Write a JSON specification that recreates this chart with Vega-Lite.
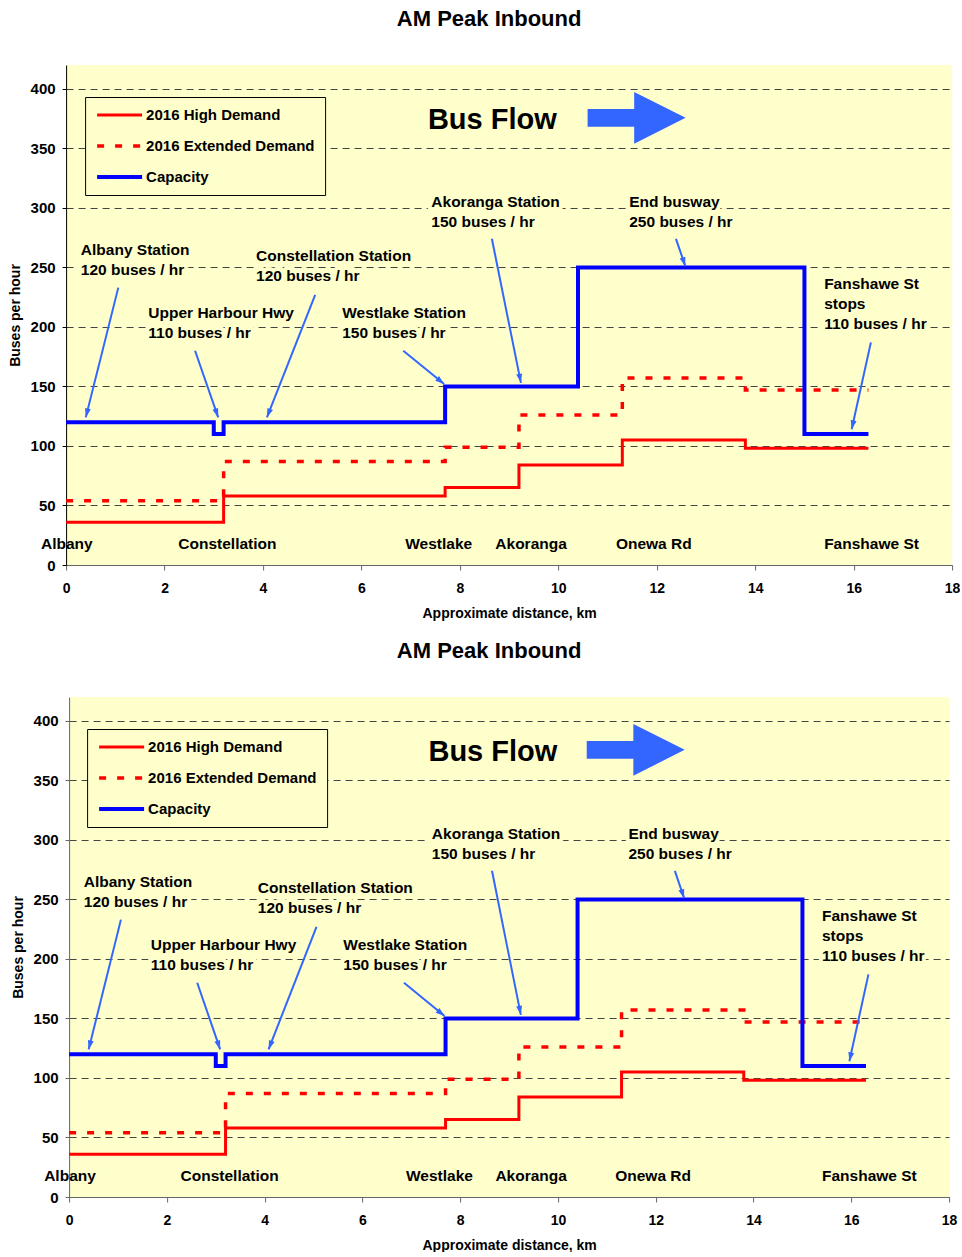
{
  "$schema": "https://vega.github.io/schema/vega-lite/v6.json",
  "padding": {"left": 8, "top": 8, "right": 0, "bottom": 0},
  "spacing": 20,
  "center": true,
  "resolve": {
    "scale": {"color": "independent", "strokeDash": "independent", "strokeWidth": "independent"},
    "legend": {"color": "independent", "strokeDash": "independent", "strokeWidth": "independent"}
  },
  "config": {
    "font": "Liberation Sans",
    "view": {"fill": "#FFFFCC", "stroke": null},
    "title": {"font": "Liberation Sans", "fontSize": 22, "fontWeight": "bold", "color": "black", "anchor": "middle", "dx": -20, "offset": 34},
    "axis": {"labelFont": "Liberation Sans", "labelFontWeight": "bold", "labelColor": "black", "titleFont": "Liberation Sans", "titleFontWeight": "bold", "titleColor": "black", "titleFontSize": 14}
  },
  "datasets": {
    "lines": [
      {"series": "2016 High Demand", "km": 0, "buses": 36},
      {"series": "2016 High Demand", "km": 3.2, "buses": 58},
      {"series": "2016 High Demand", "km": 7.7, "buses": 65},
      {"series": "2016 High Demand", "km": 9.2, "buses": 84},
      {"series": "2016 High Demand", "km": 11.3, "buses": 105},
      {"series": "2016 High Demand", "km": 13.8, "buses": 98},
      {"series": "2016 High Demand", "km": 16.3, "buses": 98},
      {"series": "2016 Extended Demand", "km": 0, "buses": 54},
      {"series": "2016 Extended Demand", "km": 3.2, "buses": 87},
      {"series": "2016 Extended Demand", "km": 7.7, "buses": 99},
      {"series": "2016 Extended Demand", "km": 9.2, "buses": 126},
      {"series": "2016 Extended Demand", "km": 11.3, "buses": 157},
      {"series": "2016 Extended Demand", "km": 13.8, "buses": 147},
      {"series": "2016 Extended Demand", "km": 16.3, "buses": 147},
      {"series": "Capacity", "km": 0, "buses": 120},
      {"series": "Capacity", "km": 3.0, "buses": 110},
      {"series": "Capacity", "km": 3.2, "buses": 120},
      {"series": "Capacity", "km": 7.7, "buses": 150},
      {"series": "Capacity", "km": 10.4, "buses": 250},
      {"series": "Capacity", "km": 15.0, "buses": 110},
      {"series": "Capacity", "km": 16.3, "buses": 110}
    ],
    "notes": [
      {"km": 0.30, "buses": 260, "label": "Albany Station\n120 buses / hr"},
      {"km": 1.67, "buses": 207.7, "label": "Upper Harbour Hwy\n110 buses / hr"},
      {"km": 3.86, "buses": 255.7, "label": "Constellation Station\n120 buses / hr"},
      {"km": 5.61, "buses": 207.7, "label": "Westlake Station\n150 buses / hr"},
      {"km": 7.42, "buses": 301, "label": "Akoranga Station\n150 buses / hr"},
      {"km": 11.44, "buses": 301, "label": "End busway\n250 buses / hr"},
      {"km": 15.40, "buses": 232, "label": "Fanshawe St\nstops\n110 buses / hr"}
    ],
    "places": [
      {"km": -0.51, "buses": 13.4, "label": "Albany"},
      {"km": 2.28, "buses": 13.4, "label": "Constellation"},
      {"km": 6.89, "buses": 13.4, "label": "Westlake"},
      {"km": 8.72, "buses": 13.4, "label": "Akoranga"},
      {"km": 11.17, "buses": 13.4, "label": "Onewa Rd"},
      {"km": 15.40, "buses": 13.4, "label": "Fanshawe St"}
    ],
    "arrows": [
      {"km": 1.06, "buses": 233, "km2": 0.40, "buses2": 124, "heading": 193.9},
      {"km": 2.62, "buses": 180, "km2": 3.09, "buses2": 124, "heading": 161.1},
      {"km": 5.06, "buses": 227, "km2": 4.08, "buses2": 124, "heading": 201.3},
      {"km": 6.85, "buses": 180, "km2": 7.68, "buses2": 152, "heading": 128.8},
      {"km": 8.65, "buses": 274, "km2": 9.24, "buses2": 153, "heading": 168.7},
      {"km": 12.39, "buses": 274, "km2": 12.58, "buses2": 251, "heading": 161.6},
      {"km": 16.35, "buses": 187, "km2": 15.96, "buses2": 114, "heading": 192.3}
    ],
    "flowtext": [{"km": 7.35, "buses": 366, "label": "Bus Flow"}],
    "flowarrow": [{"km": 11.59, "buses": 375.6}]
  },
  "vconcat": [
    {
      "width": 886,
      "height": 500,
      "title": "AM Peak Inbound",
      "encoding": {
        "x": {"field": "km", "type": "quantitative", "scale": {"domain": [0, 18], "nice": false, "zero": false},
          "axis": {"title": "Approximate distance, km", "values": [0,2,4,6,8,10,12,14,16,18], "grid": false, "labelFontSize": 14, "labelPadding": 11, "titlePadding": 11, "tickSize": 5, "domainColor": "#666", "tickColor": "#666", "labelFlush": false}},
        "y": {"field": "buses", "type": "quantitative", "scale": {"domain": [0, 420], "nice": false},
          "axis": {"title": "Buses per hour", "values": [0,50,100,150,200,250,300,350,400], "grid": true, "gridDash": [7,5], "gridColor": "#444", "gridWidth": 1, "labelFontSize": 15, "labelPadding": 7, "tickSize": 4, "titlePadding": 8, "domainColor": "black", "tickColor": "black"}}
      },
      "layer": [
        {"data": {"name": "notes"}, "mark": {"type": "text", "align": "left", "baseline": "alphabetic", "lineBreak": "\n", "lineHeight": 20, "fontSize": 15.5, "fontWeight": "bold", "fill": "#FFFFCC", "stroke": "#FFFFCC", "strokeWidth": 8, "strokeJoin": "round"}, "encoding": {"text": {"field": "label"}}},
        {"data": {"name": "lines"}, "mark": {"type": "line", "interpolate": "step-after"},
          "encoding": {
            "color": {"field": "series", "type": "nominal", "scale": {"domain": ["2016 High Demand", "2016 Extended Demand", "Capacity"], "range": ["#FF0000", "#FF0000", "#0000FF"]},
              "legend": {"title": null, "orient": "none", "legendX": 19, "legendY": 32, "symbolType": "stroke", "symbolSize": 2025, "symbolStrokeWidth": 3, "clipHeight": 16, "rowPadding": 15, "padding": 10, "labelFontSize": 15, "labelFontWeight": "bold", "labelFont": "Liberation Sans", "labelColor": "black", "labelOffset": 2, "fillColor": "#FFFFCC", "strokeColor": "black", "labelLimit": 400}},
            "strokeDash": {"field": "series", "type": "nominal", "scale": {"domain": ["2016 High Demand", "2016 Extended Demand", "Capacity"], "range": [[1,0],[7,11],[1,0]]},
              "legend": {"title": null, "orient": "none", "legendX": 19, "legendY": 32, "symbolType": "stroke", "symbolSize": 2025, "symbolStrokeWidth": 3, "clipHeight": 16, "rowPadding": 15, "padding": 10, "labelFontSize": 15, "labelFontWeight": "bold", "labelFont": "Liberation Sans", "labelColor": "black", "labelOffset": 2, "fillColor": "#FFFFCC", "strokeColor": "black", "labelLimit": 400}},
            "strokeWidth": {"field": "series", "type": "nominal", "scale": {"domain": ["2016 High Demand", "2016 Extended Demand", "Capacity"], "range": [3, 4, 3]}, "legend": null}
          }},
        {"data": {"name": "arrows"}, "mark": {"type": "rule", "color": "#3366FF", "strokeWidth": 2}, "encoding": {"x2": {"field": "km2"}, "y2": {"field": "buses2"}}},
        {"data": {"name": "arrows"}, "mark": {"type": "point", "shape": "M0,0L-0.6,1.8L0.6,1.8Z", "filled": true, "size": 100, "color": "#3366FF", "opacity": 1},
          "encoding": {"x": {"field": "km2", "type": "quantitative"}, "y": {"field": "buses2", "type": "quantitative"}, "angle": {"field": "heading", "type": "quantitative", "scale": null}}},
        {"data": {"name": "flowarrow"}, "mark": {"type": "point", "shape": "M-1,-0.18L-0.049,-0.18L-0.049,-0.527L1,0L-0.049,0.527L-0.049,0.18L-1,0.18Z", "filled": true, "size": 9604, "color": "#3366FF", "opacity": 1}},
        {"data": {"name": "notes"}, "mark": {"type": "text", "align": "left", "baseline": "alphabetic", "lineBreak": "\n", "lineHeight": 20, "fontSize": 15.5, "fontWeight": "bold", "color": "black"}, "encoding": {"text": {"field": "label"}}},
        {"data": {"name": "places"}, "mark": {"type": "text", "align": "left", "baseline": "alphabetic", "fontSize": 15.5, "fontWeight": "bold", "color": "black"}, "encoding": {"text": {"field": "label"}}},
        {"data": {"name": "flowtext"}, "mark": {"type": "text", "align": "left", "baseline": "alphabetic", "fontSize": 29, "fontWeight": "bold", "color": "black"}, "encoding": {"text": {"field": "label"}}}
      ]
    },
    {
      "width": 880,
      "height": 500,
      "title": "AM Peak Inbound",
      "encoding": {
        "x": {"field": "km", "type": "quantitative", "scale": {"domain": [0, 18], "nice": false, "zero": false},
          "axis": {"title": "Approximate distance, km", "values": [0,2,4,6,8,10,12,14,16,18], "grid": false, "labelFontSize": 14, "labelPadding": 11, "titlePadding": 11, "tickSize": 5, "domainColor": "#666", "tickColor": "#666", "labelFlush": false}},
        "y": {"field": "buses", "type": "quantitative", "scale": {"domain": [0, 420], "nice": false},
          "axis": {"title": "Buses per hour", "values": [0,50,100,150,200,250,300,350,400], "grid": true, "gridDash": [7,5], "gridColor": "#444", "gridWidth": 1, "labelFontSize": 15, "labelPadding": 7, "tickSize": 4, "titlePadding": 8, "domainColor": "#666", "tickColor": "#666"}}
      },
      "layer": [
        {"data": {"name": "notes"}, "mark": {"type": "text", "align": "left", "baseline": "alphabetic", "lineBreak": "\n", "lineHeight": 20, "fontSize": 15.5, "fontWeight": "bold", "fill": "#FFFFCC", "stroke": "#FFFFCC", "strokeWidth": 8, "strokeJoin": "round"}, "encoding": {"text": {"field": "label"}}},
        {"data": {"name": "lines"}, "mark": {"type": "line", "interpolate": "step-after"},
          "encoding": {
            "color": {"field": "series", "type": "nominal", "scale": {"domain": ["2016 High Demand", "2016 Extended Demand", "Capacity"], "range": ["#FF0000", "#FF0000", "#0000FF"]},
              "legend": {"title": null, "orient": "none", "legendX": 18, "legendY": 32, "symbolType": "stroke", "symbolSize": 2025, "symbolStrokeWidth": 3, "clipHeight": 16, "rowPadding": 15, "padding": 10, "labelFontSize": 15, "labelFontWeight": "bold", "labelFont": "Liberation Sans", "labelColor": "black", "labelOffset": 2, "fillColor": "#FFFFCC", "strokeColor": "black", "labelLimit": 400}},
            "strokeDash": {"field": "series", "type": "nominal", "scale": {"domain": ["2016 High Demand", "2016 Extended Demand", "Capacity"], "range": [[1,0],[7,11],[1,0]]},
              "legend": {"title": null, "orient": "none", "legendX": 18, "legendY": 32, "symbolType": "stroke", "symbolSize": 2025, "symbolStrokeWidth": 3, "clipHeight": 16, "rowPadding": 15, "padding": 10, "labelFontSize": 15, "labelFontWeight": "bold", "labelFont": "Liberation Sans", "labelColor": "black", "labelOffset": 2, "fillColor": "#FFFFCC", "strokeColor": "black", "labelLimit": 400}},
            "strokeWidth": {"field": "series", "type": "nominal", "scale": {"domain": ["2016 High Demand", "2016 Extended Demand", "Capacity"], "range": [3, 4, 3]}, "legend": null}
          }},
        {"data": {"name": "arrows"}, "mark": {"type": "rule", "color": "#3366FF", "strokeWidth": 2}, "encoding": {"x2": {"field": "km2"}, "y2": {"field": "buses2"}}},
        {"data": {"name": "arrows"}, "mark": {"type": "point", "shape": "M0,0L-0.6,1.8L0.6,1.8Z", "filled": true, "size": 100, "color": "#3366FF", "opacity": 1},
          "encoding": {"x": {"field": "km2", "type": "quantitative"}, "y": {"field": "buses2", "type": "quantitative"}, "angle": {"field": "heading", "type": "quantitative", "scale": null}}},
        {"data": {"name": "flowarrow"}, "mark": {"type": "point", "shape": "M-1,-0.18L-0.049,-0.18L-0.049,-0.527L1,0L-0.049,0.527L-0.049,0.18L-1,0.18Z", "filled": true, "size": 9604, "color": "#3366FF", "opacity": 1}},
        {"data": {"name": "notes"}, "mark": {"type": "text", "align": "left", "baseline": "alphabetic", "lineBreak": "\n", "lineHeight": 20, "fontSize": 15.5, "fontWeight": "bold", "color": "black"}, "encoding": {"text": {"field": "label"}}},
        {"data": {"name": "places"}, "mark": {"type": "text", "align": "left", "baseline": "alphabetic", "fontSize": 15.5, "fontWeight": "bold", "color": "black"}, "encoding": {"text": {"field": "label"}}},
        {"data": {"name": "flowtext"}, "mark": {"type": "text", "align": "left", "baseline": "alphabetic", "fontSize": 29, "fontWeight": "bold", "color": "black"}, "encoding": {"text": {"field": "label"}}}
      ]
    }
  ]
}
